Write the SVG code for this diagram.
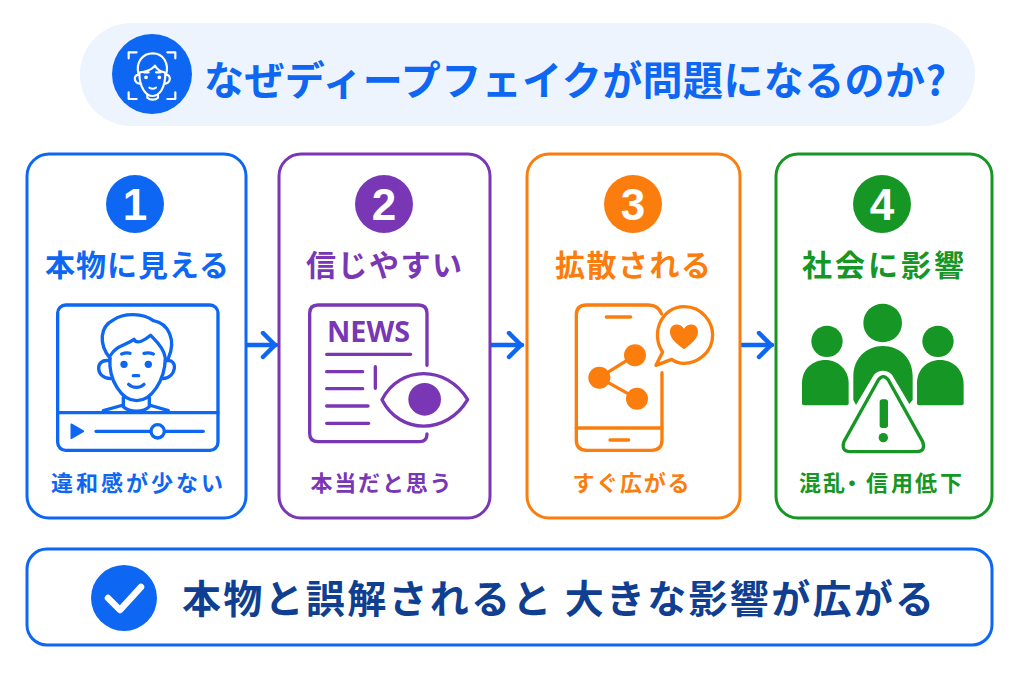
<svg xmlns="http://www.w3.org/2000/svg" width="1024" height="683" viewBox="0 0 1024 683">
<style>
text{font-family:"Noto Sans CJK JP","Noto Sans",sans-serif;font-weight:700;text-anchor:middle}
.card{fill:#fff;stroke-width:3}
.ln{fill:none;stroke-linecap:round;stroke-linejoin:round}
.num{fill:#fff;font-family:"Liberation Sans",sans-serif;font-size:44px}
.h{font-size:30px}.s{font-size:22px}
.blue{color:#0d67f2}.purple{color:#7a37b5}.orange{color:#fb7d0e}.green{color:#169624}
.c{stroke:currentColor}.f{fill:currentColor}
</style>
<defs>
<marker id="ah" markerWidth="20" markerHeight="30" refX="16" refY="14" markerUnits="userSpaceOnUse" orient="auto"><path d="M3 2L15 14L3 26" fill="none" stroke="#0d67f2" stroke-width="4.5" stroke-linecap="round" stroke-linejoin="round"/></marker>
</defs>
<rect width="1024" height="683" fill="#fff"/>
<g id="header">
<rect x="80" y="23" width="895" height="103" rx="51" fill="#eef4fe"/>
<circle cx="152" cy="74" r="40" fill="#0d67f2"/>
<g transform="translate(80 15) scale(.3333)" class="ln" stroke="#fff" stroke-width="6.5">
<path d="M146 130V112H170M262 112H286V130M146 232V252H170M262 252H286V232"/>
<path d="M176 180C165 140 190 115 218 115C250 115 268 145 258 180"/>
<path d="M180 172C195 172 215 165 225 152C232 165 245 170 254 172"/>
<path d="M178 175C178 220 200 243 218 243C238 243 256 220 256 175"/>
<path d="M176 180C160 178 160 204 180 206M258 180C274 178 274 204 254 206"/>
<path d="M202 238V248C210 256 226 256 234 248V238M208 218C214 222 222 222 228 218"/>
<circle cx="198" cy="187" r="2.5" fill="#fff"/><circle cx="238" cy="187" r="2.5" fill="#fff"/>
<path d="M192 172H206M228 172H242"/>
</g>
<text x="575" y="95" font-size="40" fill="#0d67f2" textLength="742" lengthAdjust="spacing">なぜディープフェイクが問題になるのか?</text>
</g>
<g id="connectors" class="ln" stroke="#0d67f2" stroke-width="4.5">
<path d="M247 345H276" marker-end="url(#ah)"/>
<path d="M491 345H522" marker-end="url(#ah)"/>
<path d="M740 345H772" marker-end="url(#ah)"/>
</g>
<g id="node1" class="blue">
<rect class="card c" x="27" y="154" width="219" height="364" rx="22"/>
<circle class="f" cx="135" cy="204" r="29"/>
<text class="num" x="135" y="220">1</text>
<text class="h f" x="137" y="276" textLength="184" lengthAdjust="spacing">本物に見える</text>
<g transform="translate(20 290) scale(.3333)" class="ln c" stroke-width="10">
<rect x="113" y="45" width="481" height="436" rx="24"/>
<path d="M113 368H594"/>
<path class="f" stroke-width="5" d="M154 403L190 424L154 445Z"/>
<path d="M228 424H392M434 424H550"/>
<circle cx="413" cy="424" r="20"/>
<path d="M270 205C235 160 240 110 280 90C310 68 370 68 400 92C445 100 470 150 445 205"/>
<path d="M270 198C290 165 320 165 342 148C350 165 375 150 392 136C405 150 430 170 435 200"/>
<path d="M270 205C265 270 305 332 350 332C395 332 435 270 436 205"/>
<path d="M266 212C225 205 225 265 272 266M440 212C475 205 470 265 428 266"/>
<path d="M305 192C315 188 325 188 330 190M372 190C380 188 390 188 400 192"/>
<path d="M326 283C338 295 360 295 372 283M340 257H356"/>
<path d="M310 322V350C330 368 370 368 388 350V322M250 362L310 345M388 345L445 362"/>
<circle class="f" stroke="none" cx="312" cy="223" r="11"/><circle class="f" stroke="none" cx="385" cy="223" r="11"/>
</g>
<text class="s f" x="137" y="491" textLength="172" lengthAdjust="spacing">違和感が少ない</text>
</g>
<g id="node2" class="purple">
<rect class="card c" x="279" y="154" width="211" height="364" rx="22"/>
<circle class="f" cx="384" cy="204" r="29"/>
<text class="num" x="384" y="220">2</text>
<text class="h f" x="384" y="276" textLength="156" lengthAdjust="spacing">信じやすい</text>
<g transform="translate(290 290) scale(.3333)" class="ln c" stroke-width="10">
<path d="M411 226V70Q411 45 386 45H84Q59 45 59 70V430Q59 455 84 455H388Q411 455 411 432"/>
<path d="M110 193H362M110 245H218M110 296H218M110 348H234M110 400H236M256 230V295"/>
<path d="M276 329C330 225 470 225 533 329C470 435 330 435 276 329Z"/>
<circle class="f" stroke="none" cx="404" cy="328" r="49"/>
</g>
<text x="368.500" y="342" font-size="29" class="f" style="font-family:'Noto Sans',sans-serif" textLength="83" lengthAdjust="spacingAndGlyphs">NEWS</text>
<text class="s f" x="381" y="491" textLength="141" lengthAdjust="spacing">本当だと思う</text>
</g>
<g id="node3" class="orange">
<rect class="card c" x="527" y="154" width="213" height="364" rx="22"/>
<circle class="f" cx="633" cy="204" r="29"/>
<text class="num" x="633" y="220">3</text>
<text class="h f" x="633" y="276" textLength="156" lengthAdjust="spacing">拡散される</text>
<g transform="translate(530 290) scale(.3333)" class="ln c" stroke-width="10">
<path d="M395 72Q385 45 355 45H170Q139 45 139 75V450Q139 481 170 481H365Q396 481 396 450V248"/>
<path d="M139 414H396M229 81H302M240 450H296"/>
<path d="M378 226L398 186C360 130 395 50 462 50C520 50 548 100 548 135C548 190 500 220 462 220C445 220 435 215 425 208Z"/>
<path class="f" stroke="none" d="M462 178C440 160 418 145 420 122C423 98 452 98 462 116C472 98 501 98 504 122C506 145 484 160 462 178Z"/>
<path d="M208 263L315 196M208 263L321 326"/>
<g class="f" stroke="none"><circle cx="208" cy="263" r="33"/><circle cx="315" cy="196" r="33"/><circle cx="321" cy="326" r="33"/></g>
</g>
<text class="s f" x="631" y="491" textLength="117" lengthAdjust="spacing">すぐ広がる</text>
</g>
<g id="node4" class="green">
<rect class="card c" x="776" y="154" width="216" height="364" rx="22"/>
<circle class="f" cx="882" cy="204" r="29"/>
<text class="num" x="882" y="220">4</text>
<text class="h f" x="883" y="276" textLength="162" lengthAdjust="spacing">社会に影響</text>
<g transform="translate(770 290) scale(.3333)">
<g class="f">
<circle cx="171" cy="154" r="47"/><circle cx="504" cy="154" r="47"/><circle cx="338" cy="99" r="58"/>
<path d="M96 340V280C96 235 130 210 166 210C205 210 236 240 236 280V340Q236 346 230 346H102Q96 346 96 340Z"/>
<path d="M441 340V280C441 240 470 210 510 210C550 210 581 240 581 285V340Q581 346 575 346H447Q441 346 441 340Z"/>
<path d="M250 330V258C250 205 290 168 338 168C390 168 428 205 428 258V330L418 342L366 254C352 238 326 238 312 254L258 345Z"/>
</g>
<g class="ln c" stroke-width="10">
<path d="M325 270Q340 250 355 270L458 455Q468 485 440 485H242Q212 485 222 455Z"/>
</g>
<rect class="f" x="329" y="328" width="25" height="86" rx="8"/>
<circle class="f" cx="340" cy="443" r="14"/>
</g>
<text class="s f" y="491" style="text-anchor:start" x="799 823 841 866 891 915 940">混乱・信用低下</text>
</g>
<g id="conclusion">
<rect x="27" y="549" width="965" height="96" rx="20" fill="#fff" stroke="#0d67f2" stroke-width="3"/>
<circle cx="124" cy="598" r="33" fill="#0d67f2"/>
<path class="ln" d="M108 598L120 610L141 587" stroke="#fff" stroke-width="6.500"/>
<text x="558" y="613" font-size="39" fill="#103f92" textLength="752" lengthAdjust="spacing">本物と誤解されると 大きな影響が広がる</text>
</g>
</svg>
